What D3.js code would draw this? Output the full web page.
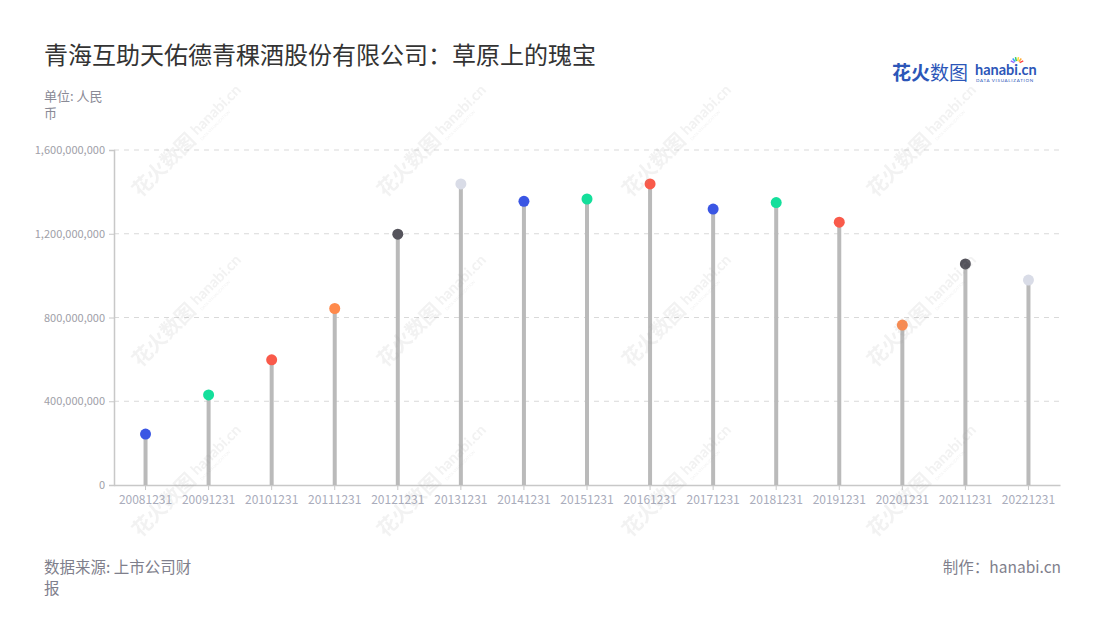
<!DOCTYPE html>
<html><head><meta charset="utf-8">
<script src="https://cdn.jsdelivr.net/npm/d3@7"></script>
<style>body{margin:0;background:#fff;font-family:"Noto Sans CJK SC","Noto Sans",sans-serif;}</style>
</head><body><svg id="c" width="1100" height="620"></svg>
<script>
const categories = ["20081231","20091231","20101231","20111231","20121231","20131231","20141231","20151231","20161231","20171231","20181231","20191231","20201231","20211231","20221231"];
const values = [243000000,430000000,598000000,843000000,1198000000,1438000000,1355000000,1366000000,1438000000,1318000000,1349000000,1255000000,764000000,1056000000,979000000];
const dotColors = ["#3a56e4","#14df9b","#f95a4a","#ff8a4c","#55545c","#d9dce7","#3a56e4","#14df9b","#f95a4a","#3a56e4","#14df9b","#f95a4a","#ff8a4c","#55545c","#d9dce7"];
const yTicks = [0,400000000,800000000,1200000000,1600000000];

const svg = d3.select("#c");
const m = {l:114, r:1060, t:150, b:485};
const x = d3.scaleBand().domain(categories).range([m.l, m.r]);
const y = d3.scaleLinear().domain([0,1600000000]).range([m.b, m.t]);
const font = '"Noto Sans CJK SC","Noto Sans",sans-serif';

// title
svg.append("text").attr("x",44).attr("y",64).attr("font-size",24).attr("fill","#333").attr("font-family",font)
  .text("青海互助天佑德青稞酒股份有限公司：草原上的瑰宝");
svg.append("text").attr("x",44).attr("y",101).attr("font-size",13).attr("fill","#8a8a96").attr("font-family",font).text("单位: 人民");
svg.append("text").attr("x",44).attr("y",118).attr("font-size",13).attr("fill","#8a8a96").attr("font-family",font).text("币");

// logo
const lg = svg.append("g");
lg.append("text").attr("x",892).attr("y",80).attr("font-size",19).attr("font-weight","bold").attr("fill","#2c56b8").attr("font-family",font).text("花火");
lg.append("text").attr("x",930).attr("y",80).attr("font-size",19).attr("fill","#2c56b8").attr("font-family",font).text("数图");
lg.append("text").attr("x",975).attr("y",75).attr("font-size",14.5).attr("font-weight","bold").attr("fill","#2c56b8").attr("font-family","Lato, sans-serif").text("hanabi.cn");
lg.append("text").attr("x",976).attr("y",82).attr("font-size",4.5).attr("fill","#2c56b8").attr("font-family","Lato, sans-serif").attr("letter-spacing",0.7).text("DATA VISUALIZATION");
const sparkC=["#f44","#fa3","#fd3","#3c6","#39f","#96f"];
sparkC.forEach((c,i)=>{const a=-Math.PI*(0.15+i*0.14);lg.append("line").attr("x1",1017+Math.cos(a)*3).attr("y1",64+Math.sin(a)*3).attr("x2",1017+Math.cos(a)*7).attr("y2",64+Math.sin(a)*7).attr("stroke",c).attr("stroke-width",1.5);});

// grid
svg.append("g").selectAll("line").data(yTicks.slice(1)).join("line")
  .attr("x1",m.l).attr("x2",m.r).attr("y1",d=>y(d)).attr("y2",d=>y(d))
  .attr("stroke","#d9d9d9").attr("stroke-dasharray","5,5");

// y axis
const ya = svg.append("g").attr("transform",`translate(${m.l},0)`)
  .call(d3.axisLeft(y).tickValues(yTicks).tickFormat(d3.format(",")).tickSize(5).tickPadding(4));
ya.select(".domain").attr("stroke","#c8c8c8").attr("stroke-width",1.5);
ya.selectAll(".tick line").attr("stroke","#c8c8c8");
ya.selectAll("text").attr("fill","#a0a0a8").attr("font-size",11).attr("font-family",font);

// x axis
const xa = svg.append("g").attr("transform",`translate(0,${m.b})`)
  .call(d3.axisBottom(x).tickSize(5).tickPadding(5).tickSizeOuter(0));
xa.select(".domain").attr("stroke","#c8c8c8").attr("stroke-width",1.5);
xa.selectAll(".tick line").attr("stroke","#c8c8c8");
xa.selectAll("text").attr("fill","#a9acbb").attr("font-size",12).attr("font-family",font);

// stems
svg.append("g").selectAll("line").data(categories).join("line")
  .attr("x1",d=>x(d)+x.bandwidth()/2).attr("x2",d=>x(d)+x.bandwidth()/2)
  .attr("y1",y(0)).attr("y2",(d,i)=>y(values[i]))
  .attr("stroke","#bababa").attr("stroke-width",4);
// dots
svg.append("g").selectAll("circle").data(categories).join("circle")
  .attr("cx",d=>x(d)+x.bandwidth()/2).attr("cy",(d,i)=>y(values[i])).attr("r",5.5)
  .attr("fill",(d,i)=>dotColors[i]);

// watermarks
const wm = svg.append("g").attr("opacity",0.13).attr("pointer-events","none");
[150,320,490].forEach(cy=>[180,425,670,915].forEach(cx=>{
  const g = wm.append("g").attr("transform",`translate(${cx},${cy}) rotate(-45)`);
  g.append("text").attr("x",-62).attr("y",6).attr("font-size",20).attr("font-weight","bold").attr("fill","#999").attr("font-family",font).text("花火数图");
  g.append("text").attr("x",22).attr("y",2).attr("font-size",15).attr("font-weight","bold").attr("fill","#999").attr("font-family","Lato, sans-serif").text("hanabi.cn");
  g.append("text").attr("x",22).attr("y",9).attr("font-size",4).attr("fill","#999").attr("font-family","Lato, sans-serif").text("DATA VISUALIZATION");
}));

// footer
svg.append("text").attr("x",44).attr("y",573).attr("font-size",15.5).attr("fill","#7f7f8c").attr("font-family",font).text("数据来源: 上市公司财");
svg.append("text").attr("x",44).attr("y",594).attr("font-size",15.5).attr("fill","#7f7f8c").attr("font-family",font).text("报");
svg.append("text").attr("x",1061).attr("y",573).attr("text-anchor","end").attr("font-size",15.5).attr("fill","#7f7f8c").attr("font-family",font).text("制作：hanabi.cn");
</script></body></html>
